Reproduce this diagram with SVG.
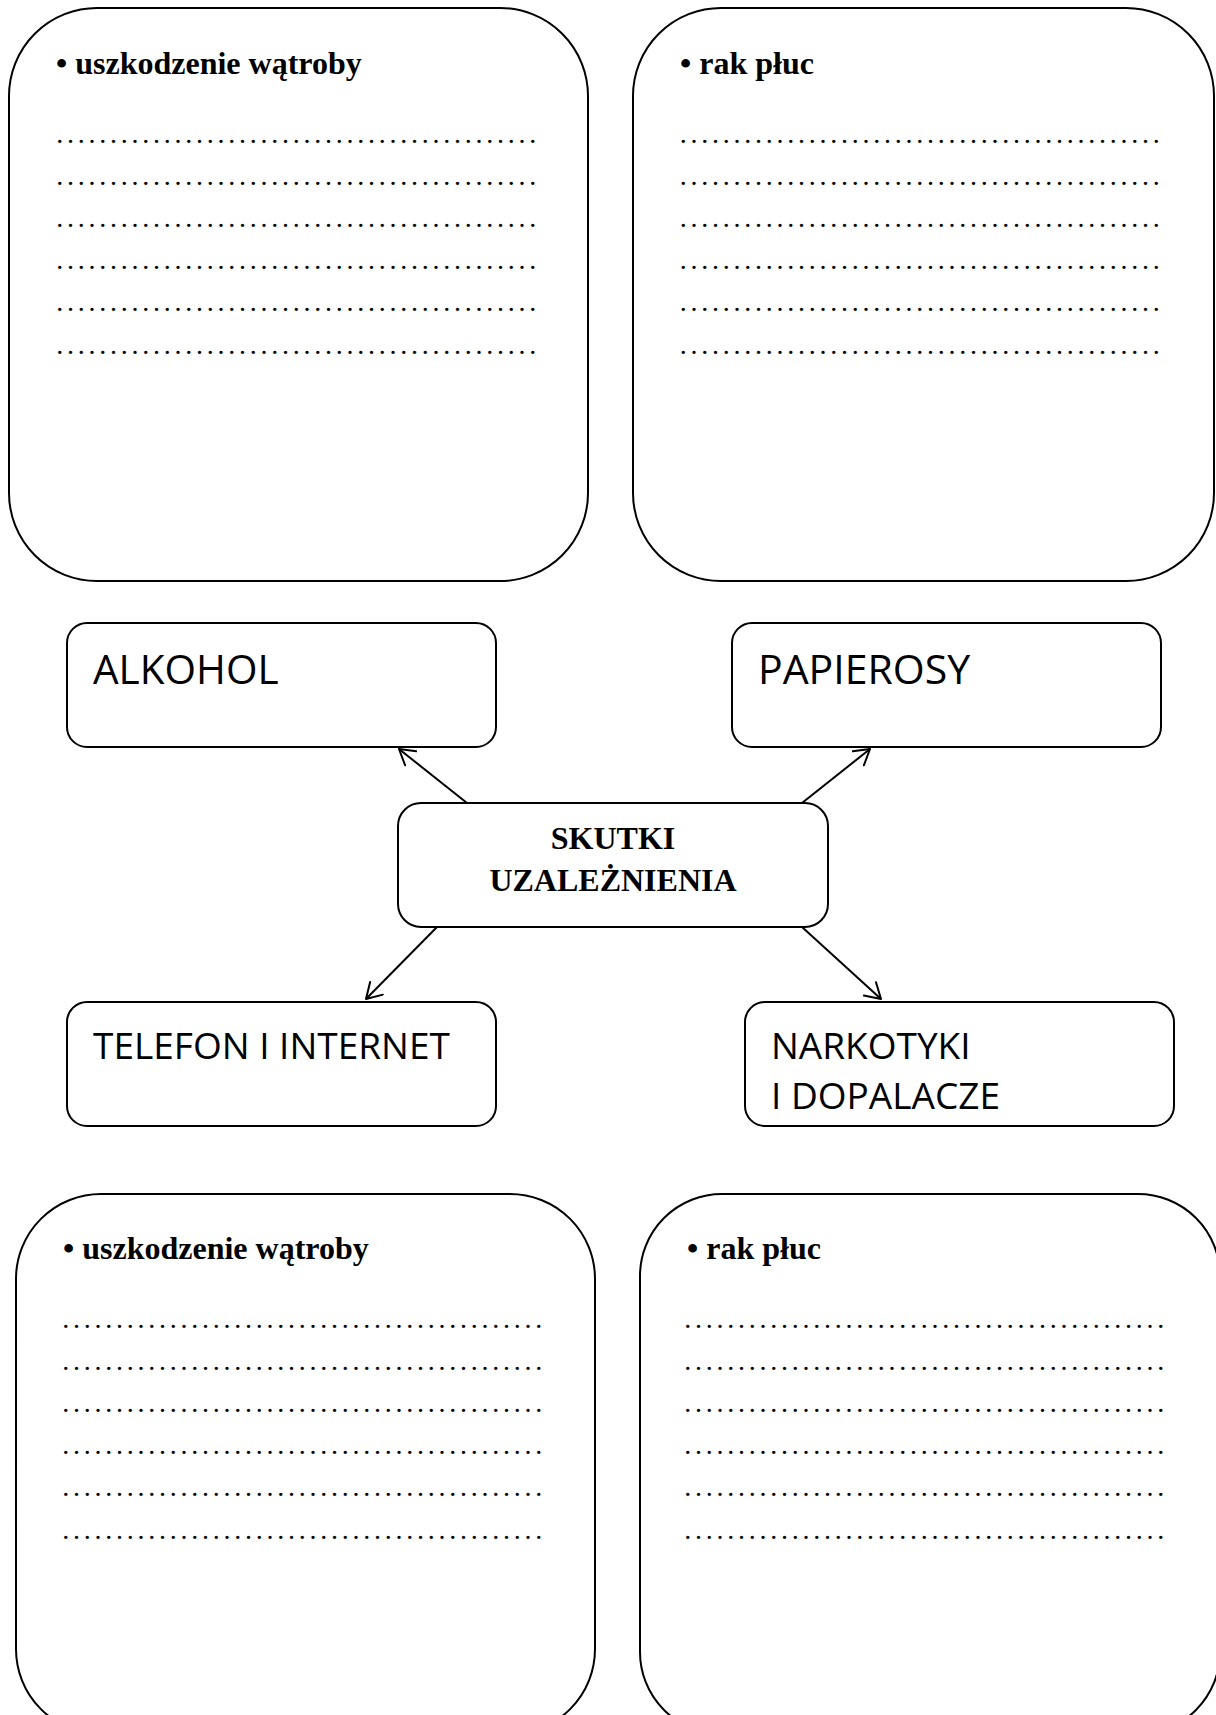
<svg xmlns="http://www.w3.org/2000/svg" width="1216" height="1715" viewBox="0 0 1216 1715">
<style>
.box{fill:#fff;stroke:#000;stroke-width:2}
.head{font-family:"Liberation Serif","Times New Roman",serif;font-weight:bold;font-size:32px;fill:#000}
.dots{font-family:"Liberation Serif","Times New Roman",serif;font-size:28px;letter-spacing:3.75px;fill:#000}
.lbl{font-family:"Open Sans","Liberation Sans",sans-serif;fill:#000}
.ctr{font-family:"Liberation Serif","Times New Roman",serif;font-weight:bold;font-size:32px;fill:#000;text-anchor:middle}
.conn{stroke:#000;stroke-width:2;fill:none}
</style>
<defs>
<marker id="arr" viewBox="0 0 18 20" refX="16" refY="10" markerWidth="18" markerHeight="20" markerUnits="userSpaceOnUse" orient="auto">
<path d="M1,1 L16,10 L1,19" fill="none" stroke="#000" stroke-width="2" stroke-linecap="round" stroke-linejoin="round"/>
</marker>
</defs>
<rect width="1216" height="1715" fill="#fff"/>

<g id="box-top-left">
<rect class="box" x="9" y="8" width="579" height="573" rx="88" ry="88"/>
<text class="head" x="56" y="74">• uszkodzenie wątroby</text>
<text class="dots" x="56.3" y="142.5">.............................................</text>
<text class="dots" x="56.3" y="184.7">.............................................</text>
<text class="dots" x="56.3" y="226.9">.............................................</text>
<text class="dots" x="56.3" y="269.1">.............................................</text>
<text class="dots" x="56.3" y="311.3">.............................................</text>
<text class="dots" x="56.3" y="353.5">.............................................</text>
</g>

<g id="box-top-right">
<rect class="box" x="633" y="8" width="581" height="573" rx="88" ry="88"/>
<text class="head" x="680" y="74">• rak płuc</text>
<text class="dots" x="679.8" y="142.5">.............................................</text>
<text class="dots" x="679.8" y="184.7">.............................................</text>
<text class="dots" x="679.8" y="226.9">.............................................</text>
<text class="dots" x="679.8" y="269.1">.............................................</text>
<text class="dots" x="679.8" y="311.3">.............................................</text>
<text class="dots" x="679.8" y="353.5">.............................................</text>
</g>

<g id="node-alkohol">
<rect class="box" x="67" y="623" width="429" height="124" rx="20" ry="20"/>
<text class="lbl" x="93" y="684" font-size="40.5">ALKOHOL</text>
</g>

<g id="node-papierosy">
<rect class="box" x="732" y="623" width="429" height="124" rx="20" ry="20"/>
<text class="lbl" x="758" y="684" font-size="41">PAPIEROSY</text>
</g>

<g id="node-center">
<rect class="box" x="398" y="803" width="430" height="124" rx="23" ry="23"/>
<text class="ctr" x="613" y="849">SKUTKI</text>
<text class="ctr" x="613" y="891">UZALEŻNIENIA</text>
</g>

<g id="node-telefon">
<rect class="box" x="67" y="1002" width="429" height="124" rx="20" ry="20"/>
<text class="lbl" x="93" y="1059" font-size="37">TELEFON I INTERNET</text>
</g>

<g id="node-narkotyki">
<rect class="box" x="745" y="1002" width="429" height="124" rx="20" ry="20"/>
<text class="lbl" x="771" y="1059" font-size="37">NARKOTYKI</text>
<text class="lbl" x="771" y="1109" font-size="37">I DOPALACZE</text>
</g>

<g id="box-bottom-left">
<rect class="box" x="16" y="1194" width="579" height="540" rx="85" ry="85"/>
<text class="head" x="63" y="1259">• uszkodzenie wątroby</text>
<text class="dots" x="62.3" y="1327.5">.............................................</text>
<text class="dots" x="62.3" y="1369.7">.............................................</text>
<text class="dots" x="62.3" y="1411.9">.............................................</text>
<text class="dots" x="62.3" y="1454.1">.............................................</text>
<text class="dots" x="62.3" y="1496.3">.............................................</text>
<text class="dots" x="62.3" y="1538.5">.............................................</text>
</g>

<g id="box-bottom-right">
<rect class="box" x="640" y="1194" width="580" height="540" rx="82" ry="82"/>
<text class="head" x="687" y="1259">• rak płuc</text>
<text class="dots" x="684.3" y="1327.5">.............................................</text>
<text class="dots" x="684.3" y="1369.7">.............................................</text>
<text class="dots" x="684.3" y="1411.9">.............................................</text>
<text class="dots" x="684.3" y="1454.1">.............................................</text>
<text class="dots" x="684.3" y="1496.3">.............................................</text>
<text class="dots" x="684.3" y="1538.5">.............................................</text>
</g>

<g id="connectors">
<line class="conn" x1="467" y1="803" x2="399" y2="749" marker-end="url(#arr)"/>
<line class="conn" x1="802" y1="803" x2="870" y2="749" marker-end="url(#arr)"/>
<line class="conn" x1="437" y1="927" x2="366" y2="999" marker-end="url(#arr)"/>
<line class="conn" x1="802" y1="927" x2="881" y2="999" marker-end="url(#arr)"/>
</g>
</svg>
